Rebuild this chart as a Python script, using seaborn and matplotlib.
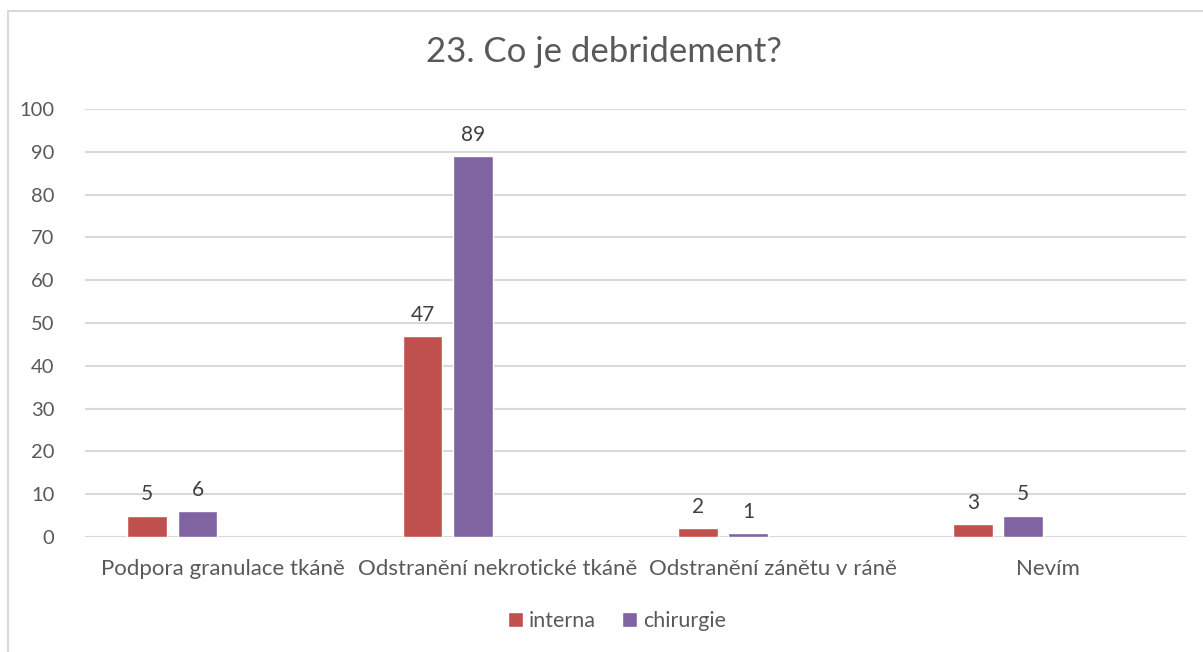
import matplotlib
matplotlib.use("Agg")
import matplotlib.pyplot as plt
from matplotlib.patches import Rectangle
import seaborn as sns
import pandas as pd

# Data
categories = ["Podpora granulace tkáně", "Odstranění nekrotické tkáně",
              "Odstranění zánětu v ráně", "Nevím"]
interna = [5, 47, 2, 3]
chirurgie = [6, 89, 1, 5]
series = ["interna", "chirurgie"]
# two unused slots keep the Excel-like grouping (bars sit left in each group)
slots = series + ["_s3", "_s4"]
colors = ["#C0504D", "#8064A2", "#9BBB59", "#4BACC6"]
yticks = list(range(0, 101, 10))

df = pd.DataFrame({
    "kategorie": categories * 2,
    "skupina": ["interna"] * 4 + ["chirurgie"] * 4,
    "pocet": interna + chirurgie,
})

sns.set_theme(style="white")
plt.rcParams["font.family"] = ["Lato", "DejaVu Sans"]

fig = plt.figure(figsize=(12.03, 6.52), dpi=100)
ax = fig.add_axes([85 / 1203, 115 / 652, 1101 / 1203, 428 / 652])

sns.barplot(data=df, x="kategorie", y="pocet", hue="skupina",
            order=categories, hue_order=slots, palette=colors,
            width=0.73, gap=0.21, dodge=True, ax=ax, legend=False,
            errorbar=None, saturation=1, zorder=3)

ax.set_xlim(-0.5, len(categories) - 0.5)
ax.set_ylim(0, 100)
ax.set_yticks(yticks)
ax.yaxis.grid(True, color="#D9D9D9", linewidth=1.5, zorder=0)
ax.xaxis.grid(False)
for s in ax.spines.values():
    s.set_visible(False)
ax.tick_params(axis="y", length=0, labelsize=14.5, labelcolor="#595959", pad=22)
ax.tick_params(axis="x", length=0, labelsize=16, labelcolor="#595959", pad=16)
ax.set_xlabel("")
ax.set_ylabel("")

# value labels
for cont in ax.containers:
    ax.bar_label(cont, padding=8, fontsize=15, color="#404040")

# legend
handles = [Rectangle((0, 0), 1, 1, facecolor=c) for c in colors[:2]]
fig.legend(handles, series, loc="center", bbox_to_anchor=(617 / 1203, 1 - 621 / 652),
           ncol=2, frameon=False, fontsize=15.5, labelcolor="#595959",
           handlelength=0.7, handleheight=0.7, handletextpad=0.3, columnspacing=1.2)

fig.text(604 / 1203, 1 - 52 / 652, "23. Co je debridement?", ha="center", va="center",
         fontsize=25, color="#595959")

# chart border
fig.patches.append(Rectangle((8 / 1203, -0.05), 1.1, 1 - 11 / 652 + 0.05,
                             transform=fig.transFigure, fill=False,
                             edgecolor="#D9D9D9", linewidth=1.5))

fig.savefig("out.png", dpi=100)
